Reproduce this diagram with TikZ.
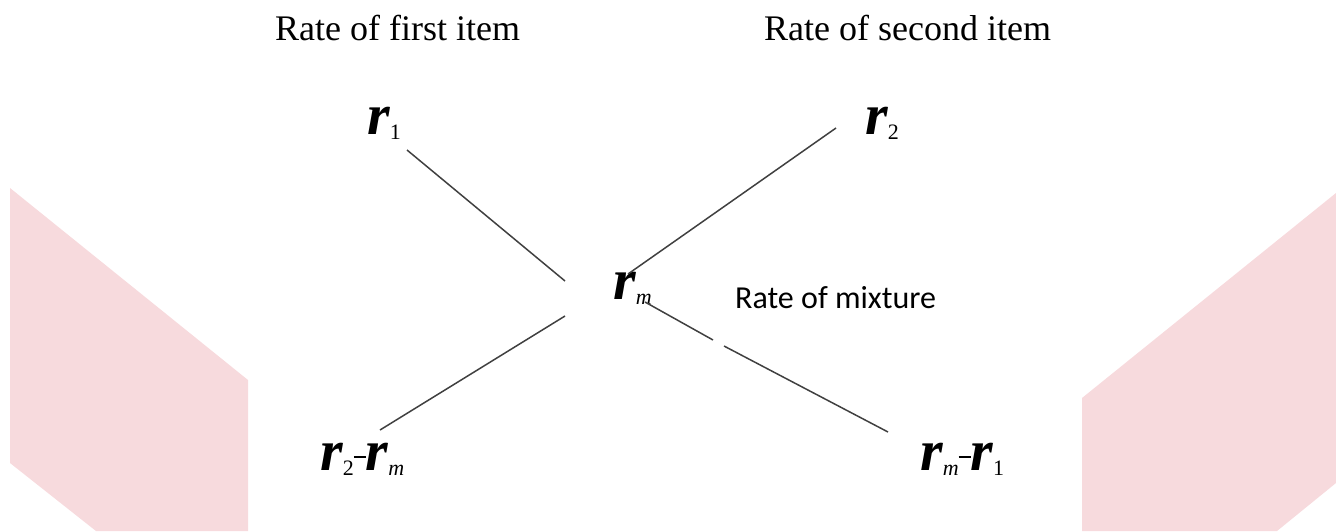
\documentclass[tikz,border=0pt]{standalone}
\usepackage{fontspec}
\setmainfont{Liberation Serif}
\newfontfamily\calibri{Carlito}
\definecolor{pinkmark}{RGB}{247,218,221}
\newcommand{\low}[1]{\raisebox{-0.1em}{\fontsize{22}{22}\selectfont\mdseries #1}}
\newcommand{\minus}{\raisebox{0.2em}{\rule{12pt}{2pt}}}
\tikzset{
  title/.style={font=\fontsize{36}{40}\selectfont, inner sep=0pt, anchor=base west},
  rate/.style={font=\fontsize{58}{60}\selectfont\bfseries\itshape, inner sep=0pt, anchor=base west},
  link/.style={draw=black!75, line width=1.5pt},
}
\begin{document}
\begin{tikzpicture}[x=1pt,y=-1pt]
  \useasboundingbox (0,0) rectangle (1336,531);
  % watermark shapes
  \fill[pinkmark] (10,188) -- (248,380) -- (248,531) -- (96,531) -- (10,463) -- cycle;
  \fill[pinkmark] (1082,398) -- (1336,193) -- (1336,483) -- (1277,531) -- (1082,531) -- cycle;

  \node[title] (t1) at (275,40) {Rate of first item};
  \node[title] (t2) at (764,40) {Rate of second item};

  \node[rate] (r1) at (367,134) {r\low{\upshape 1}};
  \node[rate] (r2) at (865,134) {r\low{\upshape 2}};
  \node[rate] (rm) at (613,299) {r\low{m}};
  \node[anchor=base west, inner sep=0pt, font=\calibri\fontsize{32}{36}\selectfont] (mix) at (735,308) {Rate of mixture};
  \node[rate] (d1) at (320,470) {r\low{\upshape 2}\minus r\low{m}};
  \node[rate] (d2) at (920,470) {r\low{m}\minus r\low{\upshape 1}};

  \coordinate (a1) at (407,150);  \coordinate (a2) at (565,281);
  \coordinate (b1) at (836,128);  \coordinate (b2) at (628,274);
  \coordinate (c1) at (565,316);  \coordinate (c2) at (380,430);
  \coordinate (e1) at (645,302);  \coordinate (e2) at (713,340);
  \coordinate (e3) at (724,346);  \coordinate (e4) at (888,432);
  \draw[link] (a1) -- (a2);
  \draw[link] (b1) -- (b2);
  \draw[link] (c1) -- (c2);
  \draw[link] (e1) -- (e2);
  \draw[link] (e3) -- (e4);
\end{tikzpicture}
\end{document}
